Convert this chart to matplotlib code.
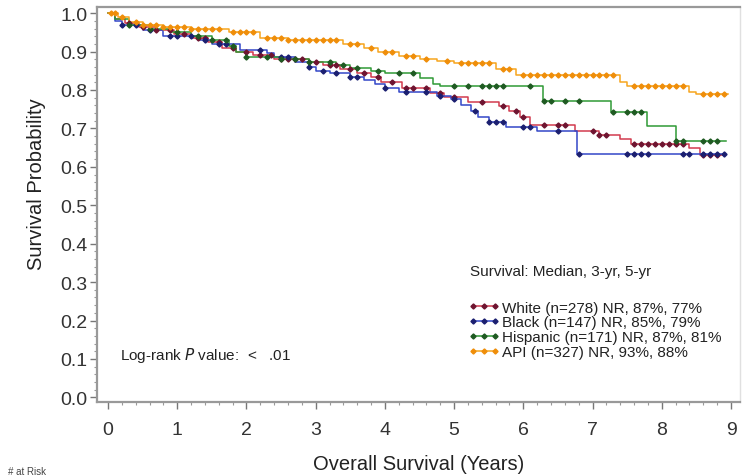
import numpy as np
import matplotlib
matplotlib.use("Agg")
import matplotlib.pyplot as plt
from matplotlib.ticker import MultipleLocator
from matplotlib.lines import Line2D

plt.rcParams['font.family'] = ['Liberation Sans', 'DejaVu Sans']

# ---- data ----
white_t = [0, 0.1, 0.25, 0.45, 0.7, 0.95, 1.2, 1.45, 1.65, 1.85, 2.1, 2.4, 2.9, 3.1, 3.35, 3.6, 3.8,
           3.95, 4.25, 4.65, 4.85, 5.2, 5.65, 5.8, 5.95, 6.1, 6.75, 7.1, 7.4, 7.55, 8.4, 8.55]
white_s = [1.0, 0.985, 0.975, 0.965, 0.955, 0.945, 0.935, 0.925, 0.91, 0.9, 0.89, 0.88, 0.872, 0.865,
           0.855, 0.845, 0.833, 0.82, 0.805, 0.793, 0.783, 0.77, 0.758, 0.745, 0.73, 0.71, 0.693, 0.683,
           0.673, 0.66, 0.648, 0.63]
white_end = 8.9
white_cens = [0.3, 0.5, 0.7, 0.9, 1.1, 1.3, 1.4, 1.6, 1.8, 2.0, 2.2, 2.35, 2.5, 2.6, 2.7, 2.8, 3.0, 3.2,
              3.3, 3.5, 3.7, 3.9, 4.1, 4.3, 4.4, 4.6, 4.8, 5.0, 5.4, 5.7, 5.9, 6.0, 6.3, 6.5, 6.6, 7.0,
              7.1, 7.2, 7.6, 7.7, 7.8, 7.9, 8.0, 8.1, 8.2, 8.3, 8.6, 8.7, 8.8]

black_t = [0, 0.1, 0.2, 0.5, 0.8, 1.3, 1.5, 1.9, 2.3, 2.4, 2.7, 2.9, 3.0, 3.2, 3.5, 3.7, 3.85, 4.0,
           4.2, 4.75, 4.95, 5.1, 5.25, 5.35, 5.5, 5.75, 6.2, 6.78]
black_s = [1.0, 0.98, 0.97, 0.955, 0.94, 0.93, 0.92, 0.905, 0.895, 0.885, 0.872, 0.86, 0.85, 0.845,
           0.835, 0.825, 0.815, 0.805, 0.794, 0.785, 0.776, 0.76, 0.745, 0.73, 0.716, 0.703, 0.692, 0.633]
black_end = 8.92
black_cens = [0.2, 0.4, 0.6, 0.9, 1.0, 1.2, 1.4, 1.6, 1.7, 2.2, 2.5, 2.6, 2.9, 3.1, 3.3, 3.5, 3.6,
              4.0, 4.3, 4.6, 4.8, 5.0, 5.3, 5.5, 5.6, 5.7, 6.0, 6.1, 6.5, 6.8, 7.5, 7.6, 7.7, 7.8,
              8.3, 8.4, 8.6, 8.7, 8.8, 8.9]

hisp_t = [0, 0.1, 0.3, 0.6, 0.9, 1.2, 1.5, 1.75, 1.85, 2.0, 2.5, 2.9, 3.3, 3.5, 3.8, 4.0, 4.5, 4.7,
          4.8, 6.28, 7.27, 7.79, 8.2]
hisp_s = [1.0, 0.985, 0.97, 0.96, 0.95, 0.94, 0.93, 0.915, 0.9, 0.885, 0.88, 0.872, 0.865, 0.858,
          0.85, 0.845, 0.83, 0.815, 0.81, 0.771, 0.742, 0.706, 0.667]
hisp_end = 8.93
hisp_cens = [0.3, 0.6, 1.0, 1.3, 1.5, 1.7, 1.8, 2.0, 2.3, 2.5, 2.7, 2.9, 3.2, 3.4, 3.6, 3.9, 4.2,
             4.4, 5.0, 5.2, 5.4, 5.5, 5.6, 5.7, 6.1, 6.3, 6.4, 6.6, 6.8, 7.3, 7.5, 7.6, 7.7, 8.2,
             8.3, 8.6, 8.7, 8.8]

api_t = [0, 0.15, 0.3, 0.5, 0.8, 1.2, 1.75, 2.2, 2.6, 3.4, 3.7, 3.9, 4.2, 4.5, 4.75, 5.0, 5.6,
         5.9, 7.4, 7.5, 8.4, 8.5]
api_s = [1.0, 0.99, 0.978, 0.97, 0.963, 0.958, 0.95, 0.935, 0.93, 0.919, 0.91, 0.9, 0.888, 0.88,
         0.875, 0.87, 0.855, 0.838, 0.82, 0.81, 0.795, 0.79]
api_end = 8.95
api_cens = [0.05, 0.1, 0.2, 0.4, 0.5, 0.6, 0.7, 0.8, 0.9, 1.0, 1.1, 1.2, 1.3, 1.4, 1.5, 1.6, 1.8,
            1.9, 2.0, 2.1, 2.3, 2.4, 2.5, 2.6, 2.7, 2.8, 2.9, 3.0, 3.1, 3.2, 3.3, 3.5, 3.6, 3.8,
            4.0, 4.1, 4.3, 4.4, 4.6, 4.9, 5.1, 5.2, 5.3, 5.4, 5.5, 5.7, 5.8, 6.0, 6.1, 6.2, 6.3,
            6.4, 6.5, 6.6, 6.7, 6.8, 6.9, 7.0, 7.1, 7.2, 7.3, 7.6, 7.7, 7.8, 7.9, 8.0, 8.1, 8.2,
            8.3, 8.6, 8.7, 8.8, 8.9]

labels = ["White (n=278) NR, 87%, 77%", "Black (n=147) NR, 85%, 79%",
          "Hispanic (n=171) NR, 87%, 81%", "API (n=327) NR, 93%, 88%"]
x_ticks = [0, 1, 2, 3, 4, 5, 6, 7, 8, 9]
y_ticks = [0.0, 0.1, 0.2, 0.3, 0.4, 0.5, 0.6, 0.7, 0.8, 0.9, 1.0]

series = [
    (white_t, white_s, white_end, white_cens, '#d23a4e', '#6e1430'),
    (black_t, black_s, black_end, black_cens, '#3347c8', '#1b1f70'),
    (hisp_t, hisp_s, hisp_end, hisp_cens, '#2f9a35', '#1f5a22'),
    (api_t, api_s, api_end, api_cens, '#f7a51e', '#ef8e0a'),
]

fig = plt.figure(figsize=(7.52, 4.77), dpi=100)
ax = fig.add_axes([97/752, 74/477, 643/752, 395/477])

handles = []
for (t, s, end, cens, lc, mc), lab in zip(series, labels):
    tt = np.array(list(t) + [end])
    ss = np.array(list(s) + [s[-1]])
    ax.step(tt, ss, where='post', color=lc, lw=1.1, zorder=3)
    c = np.array(cens)
    idx = np.searchsorted(np.array(t), c, side='right') - 1
    ax.plot(c, np.array(s)[idx], ls='none', marker='D', ms=2.6, color=mc, zorder=4)
    handles.append(Line2D([0], [0], color=lc, lw=1.1, marker='D', ms=2.6,
                          markerfacecolor=mc, markeredgecolor=mc))

ax.set_xlim(-0.159, 9.13)
ax.set_ylim(-0.012, 1.016)
ax.set_xticks(x_ticks)
ax.set_yticks(y_ticks)
ax.set_yticklabels([f"{v:.1f}" for v in y_ticks])
ax.xaxis.set_minor_locator(MultipleLocator(0.2))
ax.yaxis.set_minor_locator(MultipleLocator(0.02))
ax.tick_params(axis='both', which='major', labelsize=14, colors='#777777', labelcolor='#333333',
               length=5, width=1)
ax.tick_params(axis='x', which='major', pad=9)
ax.tick_params(axis='y', which='major', pad=2)
ax.tick_params(axis='both', which='minor', colors='#999999', length=2.5, width=0.8)

for sp in ['left', 'bottom', 'top']:
    ax.spines[sp].set_color('#999999')
    ax.spines[sp].set_linewidth(1.6)
ax.spines['right'].set_color('#e0e0e0')
ax.spines['right'].set_linewidth(1.0)

ax.set_xlabel("Overall Survival (Years)", fontsize=14.5, color='#222222', labelpad=11)
ax.set_ylabel("Survival Probability", fontsize=14.5, color='#222222')
ax.yaxis.set_label_coords(-0.08, 0.555)

ax.text(5.23, 0.328, "Survival: Median, 3-yr, 5-yr", fontsize=11, color='#222222',
        ha='left', va='center')
leg = ax.legend(handles, labels, loc='upper left', bbox_to_anchor=(5.21, 0.252),
                bbox_transform=ax.transData, frameon=False, fontsize=11,
                handlelength=2.0, handletextpad=0.2, labelspacing=0.05, numpoints=3,
                borderpad=0, borderaxespad=0)
for txt in leg.get_texts():
    txt.set_color('#222222')

ax.text(0.17, 0.112, r"Log-rank $\it{P}$ value:  <   .01", fontsize=11, color='#222222',
        ha='left', va='center')

fig.text(8/752, 1 - 472/477, "# at Risk", fontsize=7, color='#444444', ha='left', va='center')

fig.savefig("out.png", dpi=100)
